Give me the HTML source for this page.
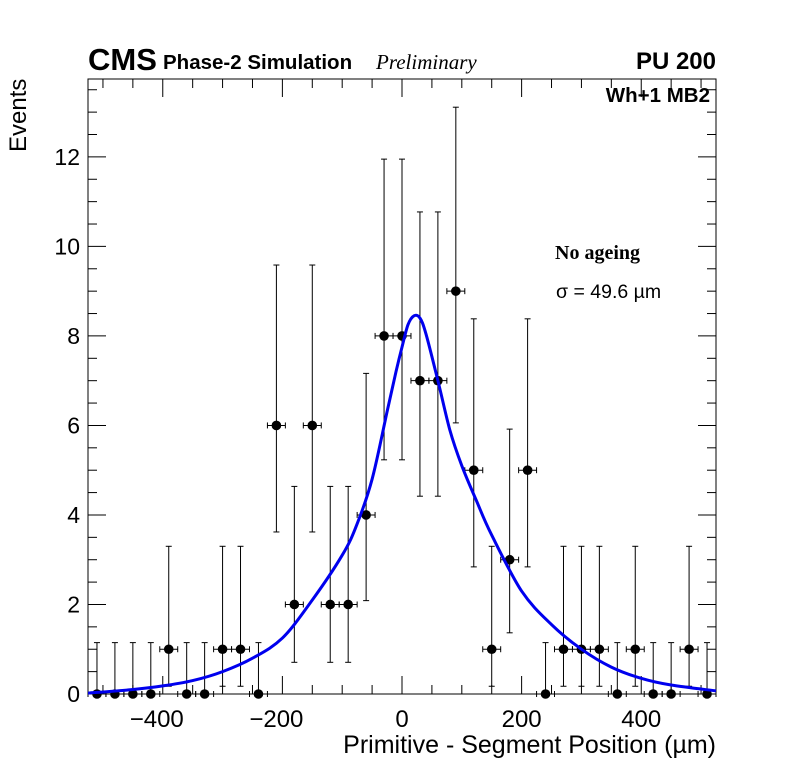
<!DOCTYPE html>
<html><head><meta charset="utf-8"><style>
body{margin:0;background:#fff;}
svg{display:block;font-family:"Liberation Sans",sans-serif;}
</style></head><body>
<svg id="chart" width="796" height="772" viewBox="0 0 796 772">
<rect x="0" y="0" width="796" height="772" fill="#fff"/>
<g id="frame"></g>
<g id="marks"></g>
<text x="88" y="70" font-size="31" font-weight="bold">CMS</text>
<text x="163" y="69" font-size="20.5" font-weight="bold">Phase-2 Simulation</text>
<text x="376" y="69" font-size="21" font-style="italic" font-family="Liberation Serif, serif">Preliminary</text>
<text x="716" y="69" font-size="24" font-weight="bold" text-anchor="end">PU 200</text>
<text x="710" y="102" font-size="20.5" font-weight="bold" text-anchor="end">Wh+1 MB2</text>
<text x="555" y="259" font-size="20" font-weight="bold" font-family="Liberation Serif, serif">No ageing</text>
<text x="556" y="298" font-size="19.5">σ = 49.6 µm</text>
<text x="716" y="753" font-size="25" text-anchor="end">Primitive - Segment Position (µm)</text>
<text transform="translate(26,152) rotate(-90)" font-size="24" text-anchor="start">Events</text>
</svg>
<script>
const binCenters=[-510,-480,-450,-420,-390,-360,-330,-300,-270,-240,-210,-180,-150,-120,-90,-60,-30,0,30,60,90,120,150,180,210,240,270,300,330,360,390,420,450,480,510];
const counts=[0,0,0,0,1,0,0,1,1,0,6,2,6,2,2,4,8,8,7,7,9,5,1,3,5,0,1,1,1,0,1,0,0,1,0];
const errLow=[0,0.173,0.708,1.367,2.086,2.840,3.620,4.419,5.232,6.057];
const errHigh=[1.148,3.300,4.638,5.918,7.163,8.382,9.584,10.77,11.95,13.11];
const fitX=[-525,-450,-400,-350,-300,-250,-200,-150,-100,-75,-50,-25,-10,0,10,20,30,40,60,80,100,125,150,200,250,300,350,400,450,525];
const fitY=[0.02,0.1,0.18,0.3,0.5,0.8,1.25,2.1,3.1,3.8,4.8,6.3,7.2,7.75,8.25,8.45,8.4,8.05,7.0,5.9,5.1,4.3,3.55,2.3,1.55,1.0,0.6,0.35,0.2,0.07];
const xTicks=[-400,-200,0,200,400];
const yTicks=[0,2,4,6,8,10,12];
const binHalf=15;

const L=88,R=716,T=79,B=694,XMIN=-525,XMAX=525,YMIN=0,YMAX=13.74;
const sx=v=>L+(v-XMIN)/(XMAX-XMIN)*(R-L);
const sy=v=>B-(v-YMIN)/(YMAX-YMIN)*(B-T);
const NS="http://www.w3.org/2000/svg";
function mk(tag,attrs,parent){const e=document.createElementNS(NS,tag);for(const k in attrs)e.setAttribute(k,attrs[k]);parent.appendChild(e);return e;}
const frame=document.getElementById('frame'),marks=document.getElementById('marks');
const box=mk('rect',{x:L,y:T,width:R-L,height:B-T,fill:'none',stroke:'#000','stroke-width':1},frame);


for(let v=-500;v<=500;v+=50){
  const major=v%200===0;const len=major?18:9;const x=sx(v);
  mk('line',{x1:x,y1:B,x2:x,y2:B-len,stroke:'#000'},frame);
  mk('line',{x1:x,y1:T,x2:x,y2:T+len,stroke:'#000'},frame);
}
xTicks.forEach(v=>{
  const t=mk('text',{x:sx(v)-(v<0?6:0),y:727,'font-size':24,'text-anchor':'middle'},frame);
  t.textContent=v<0?'\u2212'+Math.abs(v):String(v);
  
  
});
for(let v=0;v<=13.5;v+=0.5){
  const major=v%2===0;const len=major?18:9;const y=sy(v);
  mk('line',{x1:L,y1:y,x2:L+len,y2:y,stroke:'#000'},frame);
  mk('line',{x1:R,y1:y,x2:R-len,y2:y,stroke:'#000'},frame);
}
yTicks.forEach(v=>{
  const t=mk('text',{x:80,y:sy(v)+8,'font-size':23,'text-anchor':'end'},frame);
  t.textContent=String(v);
  
  
});
binCenters.forEach((c,i)=>{
  const n=counts[i];const x=sx(c),y=sy(n);
  const g=mk('g',{},marks);
  
  
  const lo=errLow[n],hi=errHigh[n];
  mk('line',{x1:x,y1:sy(lo),x2:x,y2:sy(hi),stroke:'#000'},g);
  mk('line',{x1:x-3,y1:sy(hi),x2:x+3,y2:sy(hi),stroke:'#000'},g);
  if(n>0)mk('line',{x1:x-3,y1:sy(lo),x2:x+3,y2:sy(lo),stroke:'#000'},g);
  const xl=sx(c-binHalf),xr=sx(c+binHalf);
  mk('line',{x1:xl,y1:y,x2:xr,y2:y,stroke:'#000'},g);
  mk('line',{x1:xl,y1:y-3,x2:xl,y2:y+3,stroke:'#000'},g);
  mk('line',{x1:xr,y1:y-3,x2:xr,y2:y+3,stroke:'#000'},g);
  mk('circle',{cx:x,cy:y,r:4.8,fill:'#000'},g);
});
const P=fitX.map((v,i)=>[sx(v),sy(fitY[i])]);
let d='M'+P[0][0].toFixed(1)+','+P[0][1].toFixed(1);
for(let i=0;i<P.length-1;i++){
  const p0=P[Math.max(0,i-1)],p1=P[i],p2=P[i+1],p3=P[Math.min(P.length-1,i+2)];
  const c1=[p1[0]+(p2[0]-p0[0])/6,p1[1]+(p2[1]-p0[1])/6];
  const c2=[p2[0]-(p3[0]-p1[0])/6,p2[1]-(p3[1]-p1[1])/6];
  d+='C'+c1[0].toFixed(1)+','+c1[1].toFixed(1)+' '+c2[0].toFixed(1)+','+c2[1].toFixed(1)+' '+p2[0].toFixed(1)+','+p2[1].toFixed(1);
}
const fit=mk('path',{d:d,fill:'none',stroke:'#0000ee','stroke-width':3,'stroke-linejoin':'round'},marks);


</script>
</body></html>
